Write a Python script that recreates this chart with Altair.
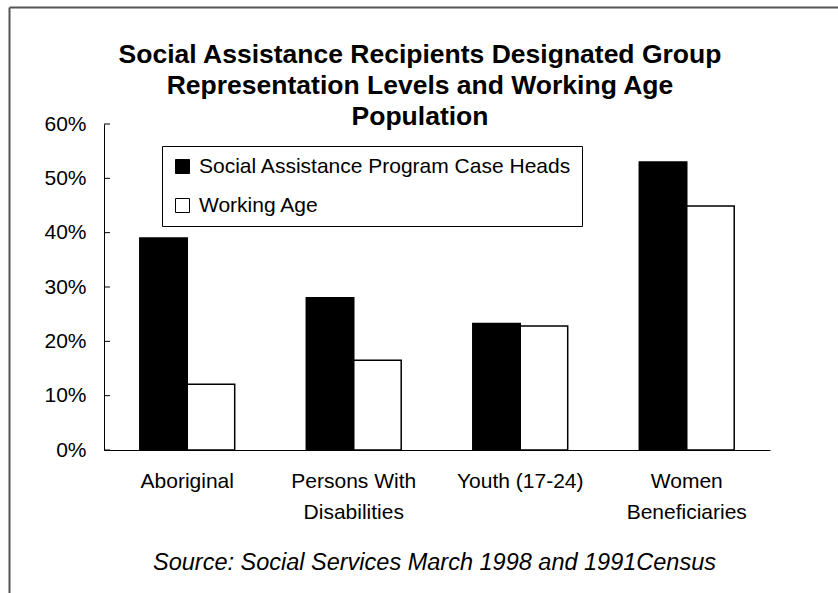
import altair as alt
import pandas as pd

categories = ["Aboriginal", "Persons With\nDisabilities", "Youth (17-24)", "Women\nBeneficiaries"]
series_names = ["Social Assistance Program Case Heads", "Working Age"]
case_heads = [0.39, 0.28, 0.233, 0.53]
working_age = [0.121, 0.165, 0.228, 0.449]
tick_values = [0.0, 0.1, 0.2, 0.3, 0.4, 0.5, 0.6]
bar_colors = ["black", "white"]

title_lines = ["Social Assistance Recipients Designated Group",
               "Representation Levels and Working Age",
               "Population"]
source_text = "Source: Social Services March 1998 and 1991Census"

rows = []
for i, c in enumerate(categories):
    rows.append({"category": c, "series": series_names[0], "value": case_heads[i]})
    rows.append({"category": c, "series": series_names[1], "value": working_age[i]})
df = pd.DataFrame(rows)
ticks_df = pd.DataFrame({"t": tick_values})

FONT = "Liberation Sans"

x_enc = alt.X(
    "category:N", sort=categories,
    scale=alt.Scale(paddingInner=0.43, paddingOuter=0.215),
    axis=alt.Axis(
        title=source_text, labelAngle=0, ticks=False, tickSize=0, grid=False,
        labelExpr="split(datum.label, '\\n')", labelLineHeight=31,
        labelFontSize=21, labelFont=FONT, labelColor="black", labelPadding=20,
        labelBaseline="top",
        domainColor="black", domainWidth=1,
        titleFont=FONT, titleFontSize=23.5, titleFontStyle="italic", titleFontWeight="normal",
        titleColor="black", titleX=330, titleY=112, titleAlign="center", titleBaseline="middle",
    ),
)

y_scale = alt.Scale(domain=[0, 0.6], nice=False)
y_axis = alt.Axis(title=None, values=tick_values, format=".0%", grid=False,
                  ticks=False, tickSize=0, labelPadding=18,
                  labelFontSize=21, labelFont=FONT, labelColor="black",
                  domainColor="black", domainWidth=1)

bars = alt.Chart(df).mark_bar(stroke="black", strokeWidth=1.5).encode(
    x=x_enc,
    xOffset=alt.XOffset("series:N", sort=series_names, scale=alt.Scale(paddingInner=0, paddingOuter=0)),
    y=alt.Y("value:Q", scale=y_scale, axis=y_axis),
    color=alt.Color("series:N", sort=series_names,
                    scale=alt.Scale(domain=series_names, range=bar_colors),
                    legend=alt.Legend(orient="none", legendX=58, legendY=22, title=None,
                                      strokeColor="black", fillColor="white", padding=10,
                                      symbolType="square", symbolSize=196,
                                      symbolStrokeColor="black", symbolStrokeWidth=1,
                                      labelFontSize=21, labelFont=FONT, labelColor="black",
                                      labelOffset=6, rowPadding=17, labelLimit=600)),
)

tick_marks = alt.Chart(ticks_df).mark_rule(color="black", strokeWidth=1).encode(
    y=alt.Y("t:Q", scale=y_scale, axis=y_axis),
    x=alt.value(0), x2=alt.value(6),
)

border_top = alt.Chart(ticks_df.head(1)).mark_rule(color="#555555", strokeWidth=2).encode(
    x=alt.value(-94.5), x2=alt.value(760), y=alt.value(-116.5)
)
border_left = alt.Chart(ticks_df.head(1)).mark_rule(color="#555555", strokeWidth=2).encode(
    x=alt.value(-94.5), y=alt.value(-116.5), y2=alt.value(500)
)

chart = alt.layer(bars, tick_marks, border_top, border_left).properties(
    width=666, height=326,
    background="white",
    title=alt.TitleParams(text=title_lines, fontSize=26.5, font=FONT, fontWeight="bold",
                          color="black", lineHeight=31, anchor="middle", dx=-17, dy=132, offset=8),
    autosize=alt.AutoSizeParams(type="none"),
    padding={"left": 104, "top": 124, "right": 68, "bottom": 143},
).configure_view(strokeWidth=0, stroke=None).configure_axis(grid=False)

chart.save("out.html", embed_options={"renderer": "svg", "actions": False})
